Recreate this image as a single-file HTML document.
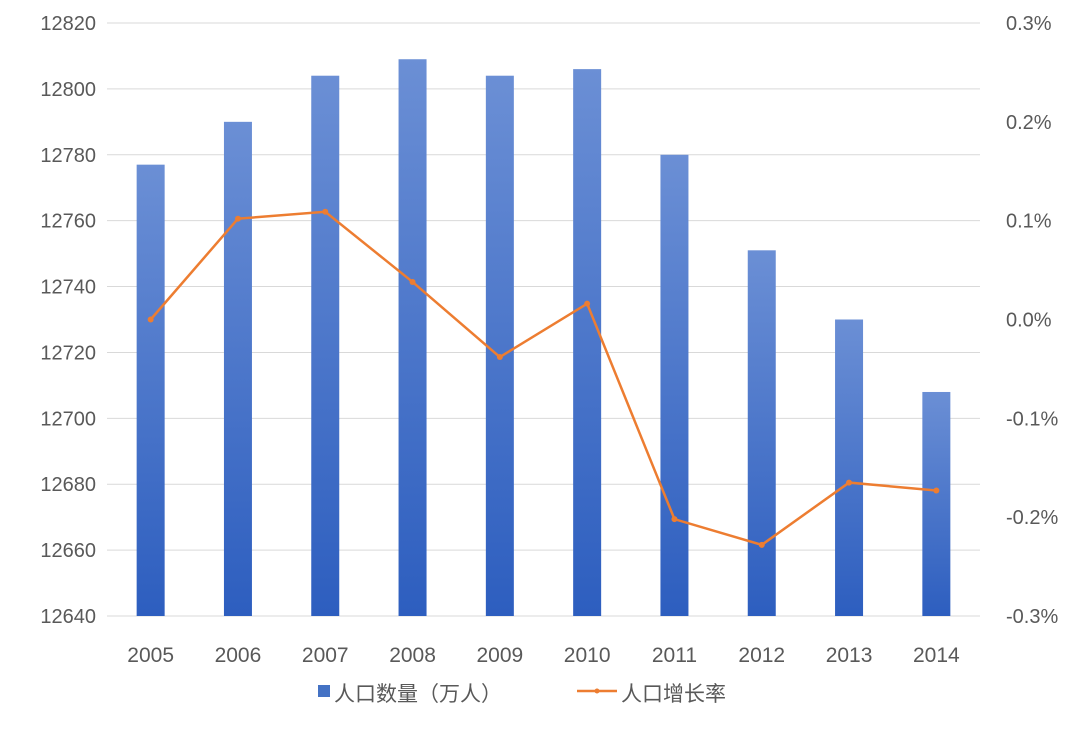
<!DOCTYPE html>
<html><head><meta charset="utf-8"><style>
body{margin:0;background:#fff;}
svg text{font-family:"Liberation Sans","Noto Sans CJK SC",sans-serif;fill:#595959;}
</style></head><body>
<svg width="1080" height="724" xmlns="http://www.w3.org/2000/svg">
<defs><linearGradient id="bg" x1="0" y1="0" x2="0" y2="1"><stop offset="0" stop-color="#6b8fd5"/><stop offset="1" stop-color="#2d5ebf"/></linearGradient></defs>
<g id="grid"></g><g id="bars"></g><g id="line"></g><g id="labels"></g>
<g>
<rect x="318" y="685" width="12" height="12" fill="#4472c4"/>
<text x="334" y="701" font-size="21">人口数量（万人）</text>
<line x1="577" y1="691" x2="617" y2="691" stroke="#ed7d31" stroke-width="2.5"/>
<circle cx="597" cy="691" r="2.5" fill="#ed7d31"/>
<text x="621" y="701" font-size="21">人口增长率</text>
</g>
</svg>
<script>
const years=["2005","2006","2007","2008","2009","2010","2011","2012","2013","2014"];
const population=[12777,12790,12804,12809,12804,12806,12780,12751,12730,12708];
const growth=[0.000,0.102,0.109,0.038,-0.038,0.016,-0.202,-0.228,-0.165,-0.173];
const leftTicks=[12640,12660,12680,12700,12720,12740,12760,12780,12800,12820];
const rightTicks=[-0.3,-0.2,-0.1,0.0,0.1,0.2,0.3];
const NS="http://www.w3.org/2000/svg";
const PT=23,PB=616,L=107,R=980;
const yL=v=>PB-(v-12640)/180*(PB-PT);
const yR=v=>PB-(v+0.3)/0.6*(PB-PT);
const step=(R-L)/years.length;
const xC=i=>L+step*(i+0.5);
function mk(t,a,p){const e=document.createElementNS(NS,t);for(const k in a)e.setAttribute(k,a[k]);document.getElementById(p).appendChild(e);return e;}
leftTicks.forEach(v=>{
 const g=mk('line',{x1:L,x2:R,y1:yL(v),y2:yL(v),stroke:'#d9d9d9','stroke-width':1},'grid');
 
 
 const t=mk('text',{x:96,y:yL(v)+7,'text-anchor':'end','font-size':20},'labels');t.textContent=v;
 
 
});
rightTicks.forEach(v=>{
 const t=mk('text',{x:1006,y:yR(v)+7,'font-size':20},'labels');t.textContent=v.toFixed(1)+'%';
 
 
});
years.forEach((y,i)=>{
 const b=mk('rect',{x:xC(i)-14,y:yL(population[i]),width:28,height:PB-yL(population[i]),fill:'url(#bg)'},'bars');
 
 
 const t=mk('text',{x:xC(i),y:662,'text-anchor':'middle','font-size':21},'labels');t.textContent=y;
 
 
});
const pl=mk('polyline',{points:growth.map((g,i)=>xC(i)+','+yR(g)).join(' '),fill:'none',stroke:'#ed7d31','stroke-width':2.5},'line');


growth.forEach((g,i)=>{
 const c=mk('circle',{cx:xC(i),cy:yR(g),r:3,fill:'#ed7d31'},'line');
 
 
});
</script>
</body></html>
